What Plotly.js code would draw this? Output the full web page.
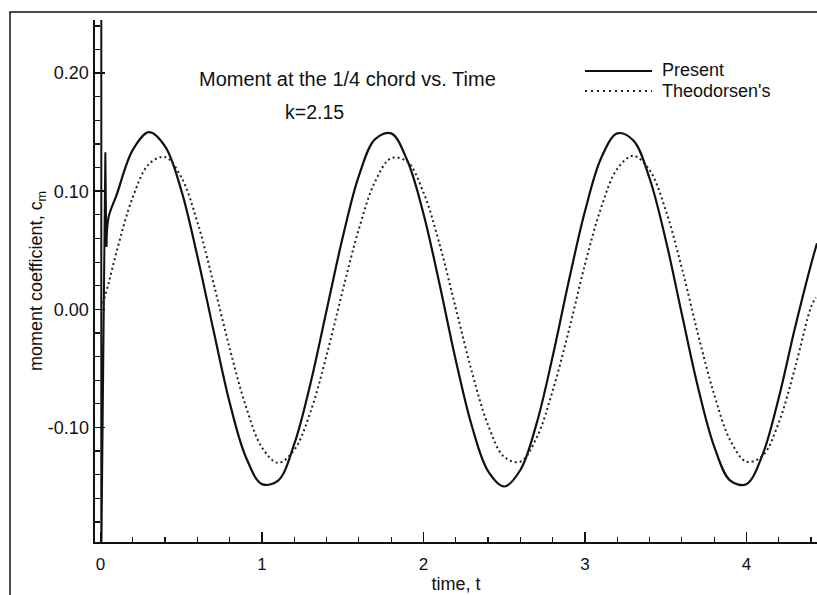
<!DOCTYPE html>
<html>
<head>
<meta charset="utf-8">
<script src="https://cdn.plot.ly/plotly-3.0.1.min.js"></script>
<style>
  html, body { margin: 0; padding: 0; background: #fff; }
  #chart { width: 817px; height: 595px; }
</style>
</head>
<body>
<div id="chart"></div>
<script>
// ---- data ----
const seriesNames = ["Present", "Theodorsen's"];

// impulsive start of the present solution (near t = 0)
const presentStartT  = [0.005, 0.005, 0.030, 0.033, 0.036];
const presentStartCm = [0.250, -0.210, 0.133, 0.060, 0.053];

// present solution
const presentT = [0.036, 0.05, 0.1, 0.2, 0.3, 0.4, 0.5, 0.6, 0.7, 0.8, 0.9,
  1.0, 1.1, 1.2, 1.3, 1.4, 1.5, 1.6, 1.7, 1.8, 1.9,
  2.0, 2.1, 2.2, 2.3, 2.4, 2.5, 2.6, 2.7, 2.8, 2.9,
  3.0, 3.1, 3.2, 3.3, 3.4, 3.5, 3.6, 3.7, 3.8, 3.9,
  4.0, 4.1, 4.2, 4.3, 4.4, 4.437];
const presentCm = [0.053, 0.078, 0.097, 0.135, 0.150, 0.138, 0.101, 0.045, -0.018, -0.079, -0.125,
  -0.148, -0.145, -0.114, -0.063, -0.001, 0.061, 0.113, 0.144, 0.149, 0.126,
  0.081, 0.021, -0.043, -0.099, -0.137, -0.150, -0.136, -0.097, -0.040, 0.024,
  0.083, 0.128, 0.149, 0.143, 0.111, 0.059, -0.004, -0.066, -0.116, -0.145,
  -0.148, -0.123, -0.075, -0.016, 0.038, 0.056];

// Theodorsen's solution
const theoT = [0.015, 0.05, 0.1, 0.2, 0.3, 0.4, 0.5, 0.6, 0.7, 0.8, 0.9,
  1.0, 1.1, 1.2, 1.3, 1.4, 1.5, 1.6, 1.7, 1.8, 1.9,
  2.0, 2.1, 2.2, 2.3, 2.4, 2.5, 2.6, 2.7, 2.8, 2.9,
  3.0, 3.1, 3.2, 3.3, 3.4, 3.5, 3.6, 3.7, 3.8, 3.9,
  4.0, 4.1, 4.2, 4.3, 4.4, 4.43];
const theoCm = [0.005, 0.022, 0.049, 0.095, 0.123, 0.129, 0.112, 0.074, 0.022, -0.033, -0.082,
  -0.117, -0.130, -0.119, -0.087, -0.039, 0.016, 0.068, 0.108, 0.128, 0.125,
  0.099, 0.055, 0.001, -0.053, -0.098, -0.125, -0.129, -0.109, -0.069, -0.018,
  0.038, 0.086, 0.119, 0.130, 0.118, 0.084, 0.035, -0.021, -0.072, -0.111,
  -0.129, -0.124, -0.096, -0.050, 0.002, 0.010];

// tick labels
const xTickVals = [0, 1, 2, 3, 4];
const xTickText = ["0", "1", "2", "3", "4"];
const yTickVals = [-0.1, 0, 0.1, 0.2];
const yTickText = ["-0.10", "0.00", "0.10", "0.20"];

// texts
const chartTitle = "Moment at the 1/4 chord vs. Time";
const chartSubtitle = "k=2.15";
const xTitle = "time, t";
const yTitle = "moment coefficient, c<sub>m</sub>";

// ---- figure ----
const FONT = "Liberation Sans, Arial, Helvetica, sans-serif";
const W = 817, H = 595;
const M = { l: 95, r: 0, t: 20, b: 53 };
const PW = W - M.l - M.r, PH = H - M.t - M.b;
const px = x => (x - M.l) / PW;          // pixel -> paper x
const py = y => (H - M.b - y) / PH;      // pixel -> paper y

const traces = [
  { x: presentStartT, y: presentStartCm, mode: "lines", name: seriesNames[0],
    line: { color: "#111", width: 2 }, showlegend: false, hoverinfo: "skip" },
  { x: presentT, y: presentCm, mode: "lines", name: seriesNames[0],
    line: { color: "#111", width: 2.2, shape: "spline", smoothing: 1 }, showlegend: false },
  { x: theoT, y: theoCm, mode: "lines", name: seriesNames[1],
    line: { color: "#222", width: 2, dash: "2px,3px", shape: "spline", smoothing: 1 }, showlegend: false }
];

const layout = {
  width: W, height: H,
  margin: M,
  paper_bgcolor: "#fff", plot_bgcolor: "#fff",
  font: { family: FONT, size: 18, color: "#111" },
  showlegend: false,
  xaxis: {
    range: [-0.034, 4.437],
    tickmode: "array", tickvals: xTickVals, ticktext: xTickText,
    ticks: "inside", ticklen: 10, tickwidth: 1.5, tickcolor: "#111",
    minor: { tickmode: "linear", tick0: 0, dtick: 0.2, ticks: "inside", ticklen: 5, tickwidth: 1.2, tickcolor: "#111" },
    showline: true, linecolor: "#111", linewidth: 2,
    showgrid: false, zeroline: false,
    tickfont: { family: FONT, size: 17 },
    ticklabelstandoff: 6,
    title: { text: xTitle, font: { family: FONT, size: 18 }, standoff: 4 }
  },
  yaxis: {
    range: [-0.197, 0.245],
    tickmode: "array", tickvals: yTickVals, ticktext: yTickText,
    ticks: "inside", ticklen: 10, tickwidth: 1.5, tickcolor: "#111",
    minor: { tickmode: "linear", tick0: 0, dtick: 0.02, ticks: "inside", ticklen: 5, tickwidth: 1.2, tickcolor: "#111" },
    showline: true, linecolor: "#111", linewidth: 2.5,
    showgrid: false, zeroline: false,
    tickfont: { family: FONT, size: 18 },
    ticklabelstandoff: 0,
    title: { text: yTitle, font: { family: FONT, size: 18 }, standoff: 1 }
  },
  shapes: [
    // figure frame
    { type: "rect", xref: "paper", yref: "paper",
      x0: px(10), x1: px(840), y0: py(12), y1: py(620),
      line: { color: "#111", width: 1.5 }, fillcolor: "rgba(0,0,0,0)" },
    // legend samples
    { type: "line", xref: "paper", yref: "paper",
      x0: px(585), x1: px(652), y0: py(71), y1: py(71),
      line: { color: "#111", width: 2 } },
    { type: "line", xref: "paper", yref: "paper",
      x0: px(585), x1: px(652), y0: py(91), y1: py(91),
      line: { color: "#222", width: 1.8, dash: "2px,4px" } }
  ],
  annotations: [
    { text: chartTitle, xref: "paper", yref: "paper", x: px(197), y: py(79),
      xanchor: "left", yanchor: "middle", showarrow: false,
      font: { family: FONT, size: 20, color: "#111" } },
    { text: chartSubtitle, xref: "paper", yref: "paper", x: px(283), y: py(112),
      xanchor: "left", yanchor: "middle", showarrow: false,
      font: { family: FONT, size: 19.5, color: "#111" } },
    { text: seriesNames[0], xref: "paper", yref: "paper", x: px(660), y: py(70),
      xanchor: "left", yanchor: "middle", showarrow: false,
      font: { family: FONT, size: 18, color: "#111" } },
    { text: seriesNames[1], xref: "paper", yref: "paper", x: px(660), y: py(91),
      xanchor: "left", yanchor: "middle", showarrow: false,
      font: { family: FONT, size: 18, color: "#111" } }
  ]
};

Plotly.newPlot("chart", traces, layout, { staticPlot: true, displayModeBar: false });
</script>
</body>
</html>
